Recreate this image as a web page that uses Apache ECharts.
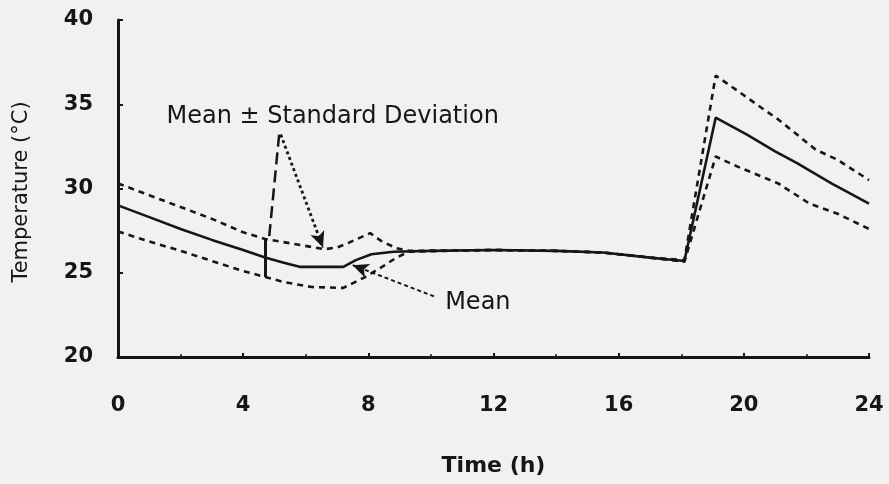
<!DOCTYPE html>
<html>
<head>
<meta charset="utf-8">
<script src="https://cdn.jsdelivr.net/npm/echarts@6/dist/echarts.min.js"></script>
<style>
html,body{margin:0;padding:0;background:#f1f1f1;}
#chart{width:889px;height:484px;}
</style>
</head>
<body>
<div id="chart"></div>
<script>
// ---- data (hours, °C) ----
const xTicks = [0, 4, 8, 12, 16, 20, 24];
const yTicks = [20, 25, 30, 35, 40];
const meanPts = [[0,29.0],[1,28.3],[2,27.6],[3,26.95],[4,26.35],[4.7,25.9],[5.3,25.6],[5.8,25.35],[7.2,25.35],[7.6,25.75],[8.1,26.1],[8.8,26.25],[10,26.3],[12,26.35],[14,26.3],[15.5,26.2],[17,25.9],[18.1,25.7],[19.1,34.2],[20.1,33.2],[21.0,32.2],[21.7,31.5],[22.8,30.3],[24,29.1]];
const upperPts = [[0,30.3],[1,29.6],[2,28.9],[3,28.2],[4,27.4],[4.7,27.0],[5.5,26.75],[6.6,26.4],[7.0,26.5],[7.4,26.8],[8.06,27.35],[8.4,26.9],[8.9,26.45],[9.3,26.3],[12,26.35],[14,26.3],[15.5,26.2],[17,25.9],[18.1,25.75],[19.1,36.7],[19.8,35.8],[20.4,35.0],[21.1,34.1],[21.7,33.2],[22.3,32.3],[23.0,31.7],[24,30.5]];
const lowerPts = [[0,27.45],[1,26.85],[2,26.3],[3,25.7],[4,25.1],[4.7,24.75],[5.3,24.45],[6.2,24.15],[7.2,24.1],[7.85,24.7],[8.4,25.3],[8.9,25.9],[9.3,26.25],[12,26.35],[14,26.3],[15.5,26.2],[17,25.9],[18.1,25.65],[19.1,31.9],[19.8,31.3],[21.1,30.3],[22.1,29.1],[23.0,28.5],[24,27.6]];
// annotation anchors (data coords)
const errBar = [[4.7,24.75],[4.7,27.0]];
const sdDashArrow = [[5.15,33.2],[4.83,27.1]];
const sdDotArrow = [[5.2,33.2],[6.55,26.5]];
const meanArrow = [[10.1,23.6],[7.5,25.45]];
const sdLabelPos = [6.86,34.25];
const meanLabelPos = [11.5,23.2];
const texts = {
  sd: 'Mean \u00B1 Standard Deviation',
  mean: 'Mean',
  xName: 'Time (h)',
  yName: 'Temperature (\u00B0C)'
};

const ink = '#161616';
const chart = echarts.init(document.getElementById('chart'));

function seg(pts, style, endSymbol) {
  return [
    {coord: pts[0], symbol: 'none', lineStyle: style},
    {coord: pts[1], symbol: endSymbol || 'none', symbolSize: [11, 16]}
  ];
}

chart.setOption({
  animation: false,
  backgroundColor: '#f1f1f1',
  grid: {left: 118, right: 20, top: 20, bottom: 127},
  xAxis: {
    type: 'value', min: 0, max: 24, interval: 4,
    axisLine: {show: true, lineStyle: {color: ink, width: 3}},
    axisTick: {show: true, inside: true, length: 4, lineStyle: {color: ink, width: 2}},
    minorTick: {show: true, splitNumber: 2, length: 3, lineStyle: {color: ink, width: 1.5}},
    splitLine: {show: false},
    axisLabel: {
      margin: 38, color: ink, fontFamily: 'DejaVu Sans', fontWeight: 'bold', fontSize: 21,
      formatter: v => xTicks.includes(v) ? String(v) : ''
    }
  },
  yAxis: {
    type: 'value', min: 20, max: 40, interval: 5,
    axisLine: {show: true, lineStyle: {color: ink, width: 3}},
    axisTick: {show: true, inside: true, length: 5, lineStyle: {color: ink, width: 2}},
    splitLine: {show: false},
    axisLabel: {
      margin: 25, color: ink, fontFamily: 'DejaVu Sans', fontWeight: 'bold', fontSize: 21,
      formatter: v => yTicks.includes(v) ? String(v) : ''
    }
  },
  series: [
    {
      name: 'Upper', type: 'line', data: upperPts, showSymbol: false, z: 3,
      lineStyle: {color: ink, width: 2.6, type: [6, 5]}
    },
    {
      name: 'Lower', type: 'line', data: lowerPts, showSymbol: false, z: 3,
      lineStyle: {color: ink, width: 2.6, type: [6, 5]}
    },
    {
      name: 'Mean', type: 'line', data: meanPts, showSymbol: false, z: 4,
      lineStyle: {color: ink, width: 2.6},
      markLine: {
        silent: true, animation: false,
        label: {show: false},
        symbol: ['none', 'none'],
        lineStyle: {color: ink, width: 2.5},
        data: [
          seg(errBar, {color: ink, width: 3, type: 'solid'}),
          seg(sdDashArrow, {color: ink, width: 2.5, type: [12, 6]}),
          seg(sdDotArrow, {color: ink, width: 2.8, type: [3, 3]}, 'arrow'),
          seg(meanArrow, {color: ink, width: 2, type: [4, 3]}, 'arrow')
        ]
      }
    }
  ]
});

const p1 = chart.convertToPixel({gridIndex: 0}, sdLabelPos);
const p2 = chart.convertToPixel({gridIndex: 0}, meanLabelPos);
const gridRect = chart.getModel().getComponent('grid').coordinateSystem.getRect();
const txt = {fill: ink, fontFamily: 'DejaVu Sans', align: 'center', verticalAlign: 'middle'};
chart.setOption({
  graphic: [
    {type: 'text', x: p1[0], y: p1[1], style: Object.assign({}, txt, {text: texts.sd, fontSize: 24})},
    {type: 'text', x: p2[0], y: p2[1], style: Object.assign({}, txt, {text: texts.mean, fontSize: 24})},
    {type: 'text', x: gridRect.x + gridRect.width / 2, y: 466,
      style: Object.assign({}, txt, {text: texts.xName, fontSize: 22, fontWeight: 'bold'})},
    {type: 'text', x: 22, y: 192, rotation: Math.PI / 2,
      style: Object.assign({}, txt, {text: texts.yName, fontSize: 21})}
  ]
});
</script>
</body>
</html>
